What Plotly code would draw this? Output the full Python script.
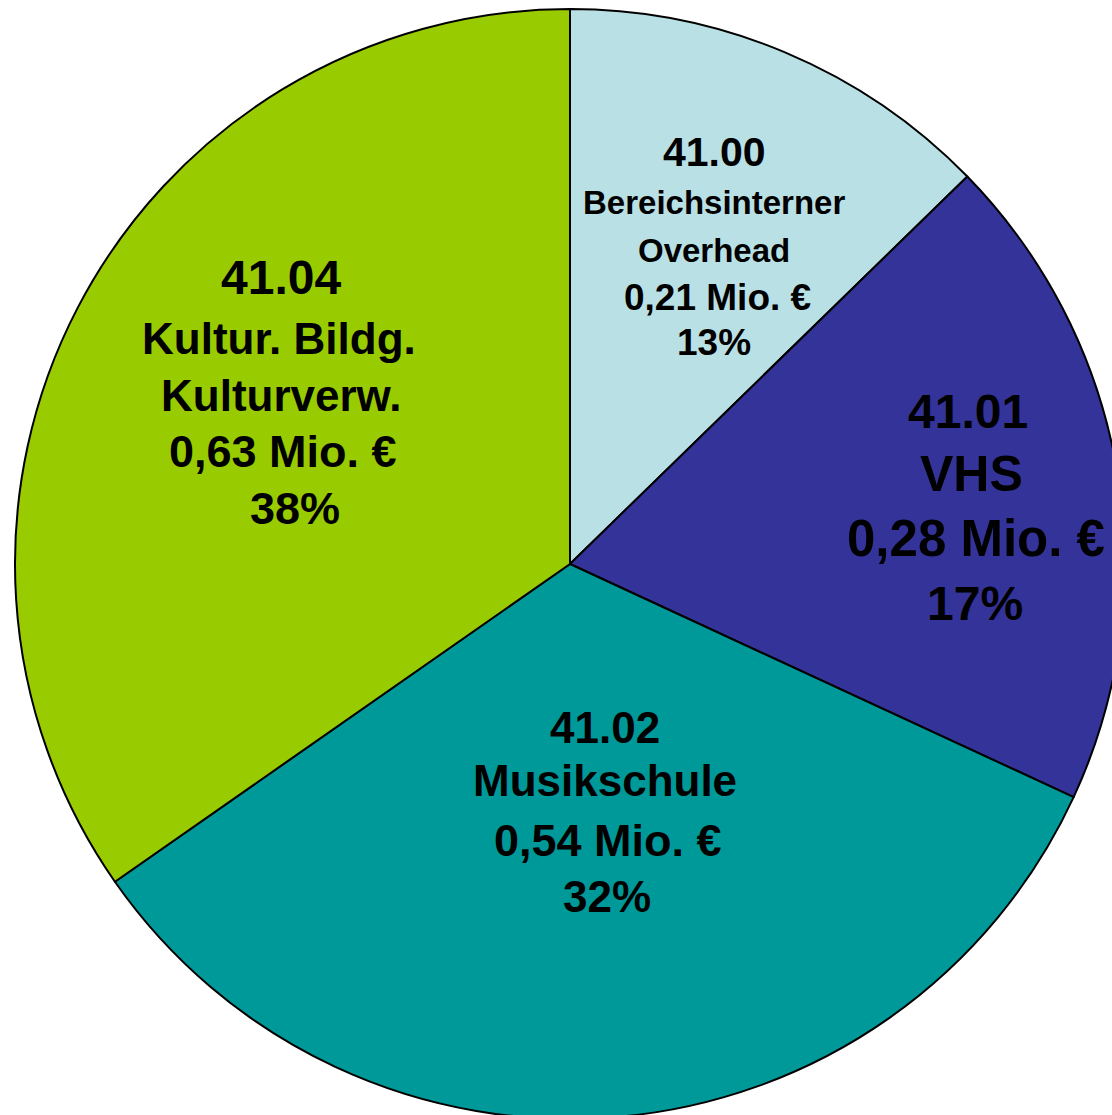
import plotly.graph_objects as go

# ---- data ----
codes = ["41.00", "41.01", "41.02", "41.04"]
names = [["Bereichsinterner", "Overhead"], ["VHS"], ["Musikschule"], ["Kultur. Bildg.", "Kulturverw."]]
amounts = ["0,21", "0,28", "0,54", "0,63"]
percents = ["13%", "17%", "32%", "38%"]
# slice shares as drawn in the picture (percent of circle)
shares = [12.7, 19.2, 33.4, 34.7]
colors = ["#B9E0E4", "#333399", "#009999", "#99CC00"]

W, H = 1140, 1130
ML, MR, MT, MB = 15, 15, 9, 11
PW, PH = W - ML - MR, H - MT - MB

fig = go.Figure()
fig.add_trace(go.Pie(
    labels=codes, values=shares, sort=False, direction="clockwise", rotation=0,
    marker=dict(colors=colors, line=dict(color="black", width=2)),
    textinfo="none", hoverinfo="label+percent", showlegend=False,
    domain=dict(x=[0, 1], y=[0, 1]),
))

# label layout: (x center px, y px per line, font sizes, x nudges)
blocks = [
    (714, [152, 202, 250, 297, 342], [41, 33, 33, 37, 37], [0, 0, 0, 3, 0]),
    (971, [411, 474, 538, 603], [48, 50, 51, 48], [-3, 0, 5, 4]),
    (605, [727, 780, 840, 896], [44, 44, 45, 44], [0, 0, 3, 2]),
    (281, [277, 338, 395, 452, 508], [48, 44, 44, 45, 45], [0, -2, 0, 2, 14]),
]

def px2paper(x, y):
    return (x - ML) / PW, 1 - (y - MT) / PH

for i, (cx, ys, sizes, dxs) in enumerate(blocks):
    lines = [codes[i]] + names[i] + [f"{amounts[i]} Mio. €", percents[i]]
    for line, y, s, dx in zip(lines, ys, sizes, dxs):
        ax, ay = px2paper(cx + dx, y)
        fig.add_annotation(
            x=ax, y=ay, xref="paper", yref="paper", xanchor="center", yanchor="middle",
            text=f"<b>{line}</b>", showarrow=False,
            font=dict(family="Liberation Sans, Arial, sans-serif", size=s, color="black"),
        )

fig.update_layout(
    width=W, height=H, margin=dict(l=ML, r=MR, t=MT, b=MB),
    paper_bgcolor="white", plot_bgcolor="white",
)

fig.write_html(
    "out.html",
    config={"displayModeBar": False},
    post_script="document.body.style.margin='0';document.body.style.overflow='hidden';",
)
